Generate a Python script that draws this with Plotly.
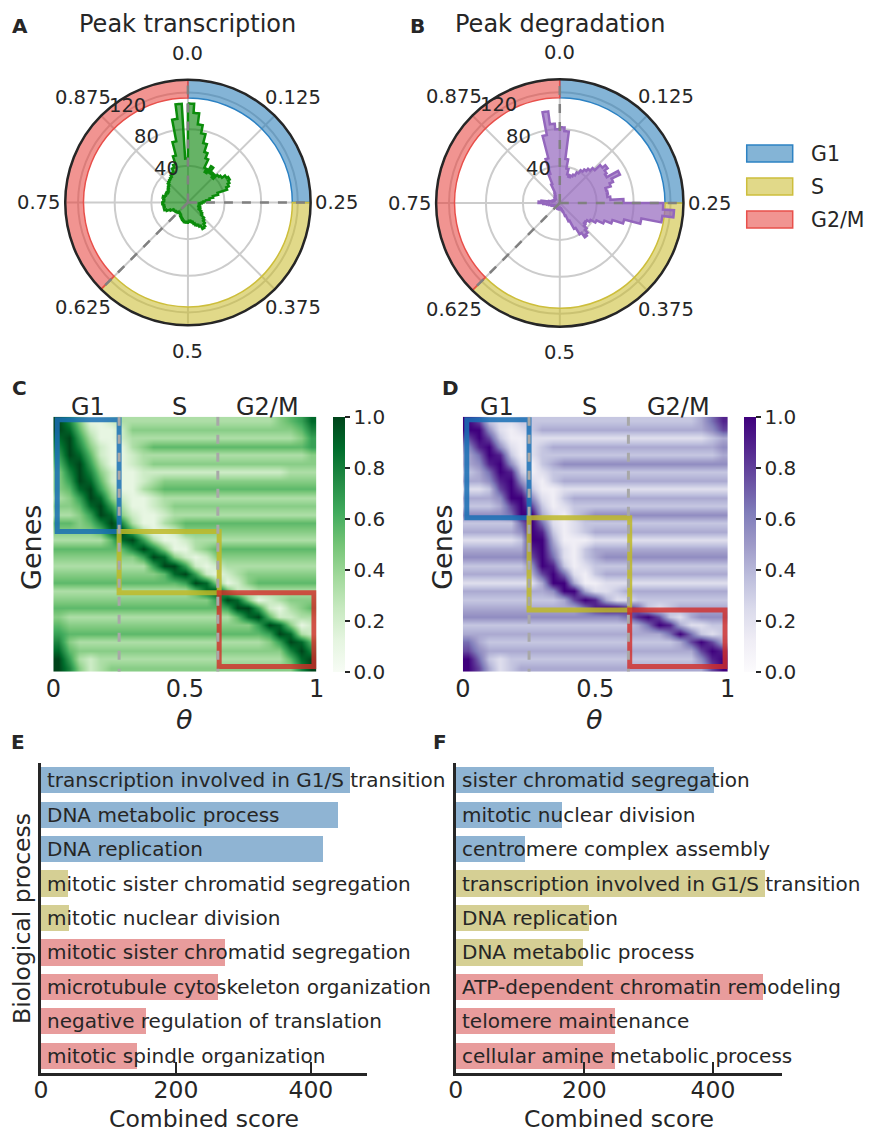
import numpy as np
import plotly.graph_objects as go

W, H = 871, 1134
FONT = "DejaVu Sans"
INK = "#262626"

# ----------------------------- data -----------------------------
PHASES = ["G1", "S", "G2/M"]
PHASE_BOUNDS = [0.0, 0.25, 0.625, 1.0]

# histogram of peak phase (100 bins over [0,1))
TRANSCRIPTION_COUNTS = [
    108, 98, 86, 77, 67, 58, 52, 42, 38, 47, 40, 42, 38, 44, 46, 50, 52, 50, 48, 45,
    34, 28, 24, 20, 17, 15, 13, 12, 13, 12, 14, 13, 15, 14, 17, 19, 20, 24, 26, 29,
    32, 33, 29, 27, 26, 24, 22, 21, 20, 21, 22, 21, 22, 21, 20, 19, 18, 17, 16, 15,
    15, 14, 15, 16, 16, 17, 17, 18, 21, 25, 27, 27, 26, 27, 28, 27, 26, 27, 28, 26,
    25, 26, 24, 25, 26, 27, 28, 30, 31, 32, 33, 35, 37, 41, 44, 53, 68, 92, 108, 48,
]
DEGRADATION_COUNTS = [
    82, 78, 48, 38, 32, 30, 32, 34, 38, 42, 45, 48, 52, 60, 64, 60, 58, 72, 62, 58,
    52, 53, 52, 55, 69, 112, 124, 112, 90, 72, 60, 52, 44, 38, 35, 34, 36, 40, 44, 46,
    40, 32, 22, 15, 10, 8, 7, 6, 6, 7, 6, 5, 6, 5, 6, 7, 6, 5, 5, 6,
    5, 6, 5, 6, 6, 5, 6, 6, 7, 8, 9, 10, 12, 14, 18, 23, 20, 12, 9, 8,
    7, 7, 6, 7, 6, 7, 6, 7, 8, 8, 9, 10, 12, 22, 33, 50, 75, 100, 86, 80,
]
RADIAL_TICKS = [40, 80, 120]
RADIAL_MAX = 134
RING_BASE = 114
ANGULAR_TICKS = [0.0, 0.125, 0.25, 0.375, 0.5, 0.625, 0.75, 0.875]
ANGULAR_LABELS = ["0.0", "0.125", "0.25", "0.375", "0.5", "0.625", "0.75", "0.875"]

# normalised expression per gene (rows, top->bottom) over theta (columns), digits 0..9 -> 0..1
TRANSCRIPTION_HEATMAP = [
    "9741123333333333333334568",
    "9852112444444444444444457",
    "8963112333333333333333346",
    "7974211345555555555555556",
    "6985211233333333333333334",
    "5896311234444444444444444",
    "4797421122222222222222333",
    "4698521123444444444444444",
    "4589631134555555555555555",
    "3469842112333333333333333",
    "4458963112344444444444444",
    "3346984211233333333333333",
    "5545797311345555555555555",
    "4444589631124444444444444",
    "3333358963112333333333333",
    "5555555797411345555555555",
    "4444444469842124444444444",
    "3333333336996212333333333",
    "4444444444589621234444444",
    "5555555555556984124555555",
    "3333333333333589522333333",
    "4444444444444446984123444",
    "5555555555555555699621345",
    "4333333333333333358952233",
    "5444444444444444444698412",
    "6555555555555555555569832",
    "7433333333333333333346985",
    "8544444444444444444444797",
    "9632333333333333333333589",
    "9742344444444444444444479",
]
DEGRADATION_HEATMAP = [
    "9732233333333333333333468",
    "9952123444444444444444457",
    "7973112222222222222222234",
    "5895212344444444444444445",
    "4698312333333333333333334",
    "4589521345555555555555555",
    "3469831233333333333333333",
    "4458952134444444444444444",
    "2237973112222222222222222",
    "4445995213444444444444444",
    "3334797312333333333333333",
    "5555699421345555555555555",
    "3333369621233333333333333",
    "4444459831234444444444444",
    "2222239941112222222222222",
    "4444448952134444444444444",
    "5555557962134555555555555",
    "3333335983123333333333333",
    "4444444796213444444444444",
    "2222222499411222222222222",
    "4444444459942234444444444",
    "3333333334798422333333333",
    "4444444444468998632344444",
    "5555555555555556897324555",
    "3333333333333333469842233",
    "4444444444444444444696323",
    "6433333333333333333347974",
    "7544444444444444444444798",
    "9632333333333333333333589",
    "9742344444444444444444479",
]
# gene-row spans (fraction of genes, top to bottom) assigned to each phase
TRANSCRIPTION_PHASE_ROWS = [(0.012, 0.45), (0.45, 0.69), (0.69, 0.98)]
DEGRADATION_PHASE_ROWS = [(0.012, 0.396), (0.396, 0.758), (0.758, 0.98)]
PHASE_BOX_X = [(0.015, 0.25), (0.25, 0.63), (0.63, 0.99)]
HEATMAP_TICKS = [0, 0.5, 1]
HEATMAP_TICK_LABELS = ["0", "0.5", "1"]
CBAR_TICKS = [0, 0.2, 0.4, 0.6, 0.8, 1.0]
CBAR_LABELS = ["0.0", "0.2", "0.4", "0.6", "0.8", "1.0"]

# enrichment
E_TERMS = [
    "transcription involved in G1/S transition",
    "DNA metabolic process",
    "DNA replication",
    "mitotic sister chromatid segregation",
    "mitotic nuclear division",
    "mitotic sister chromatid segregation",
    "microtubule cytoskeleton organization",
    "negative regulation of translation",
    "mitotic spindle organization",
]
E_SCORES = [458, 440, 418, 40, 42, 272, 263, 155, 143]
E_PHASE = ["G1", "G1", "G1", "S", "S", "G2/M", "G2/M", "G2/M", "G2/M"]
F_TERMS = [
    "sister chromatid segregation",
    "mitotic nuclear division",
    "centromere complex assembly",
    "transcription involved in G1/S transition",
    "DNA replication",
    "DNA metabolic process",
    "ATP-dependent chromatin remodeling",
    "telomere maintenance",
    "cellular amine metabolic process",
]
F_SCORES = [402, 165, 107, 481, 207, 198, 478, 247, 247]
F_PHASE = ["G1", "G1", "G1", "S", "S", "S", "G2/M", "G2/M", "G2/M"]
SCORE_TICKS = [0, 200, 400]

# ----------------------------- styles -----------------------------
RING_FILL = {"G1": "rgba(31,119,180,0.55)", "S": "rgba(200,185,40,0.55)", "G2/M": "rgba(230,60,55,0.55)"}
RING_LINE = {"G1": "rgb(45,130,195)", "S": "rgb(205,190,60)", "G2/M": "rgb(232,80,75)"}
BOX_LINE = {"G1": "rgba(25,110,180,0.85)", "S": "rgba(190,185,40,0.85)", "G2/M": "rgba(210,45,40,0.8)"}
BAR_COLOR = {"G1": "rgb(143,180,211)", "S": "rgb(213,207,148)", "G2/M": "rgb(232,156,156)"}
GREENS = [[0.0, "#f7fcf5"], [0.125, "#e5f5e0"], [0.25, "#c7e9c0"], [0.375, "#a1d99b"], [0.5, "#74c476"],
          [0.625, "#41ab5d"], [0.75, "#238b45"], [0.875, "#006d2c"], [1.0, "#00441b"]]
PURPLES = [[0.0, "#fcfbfd"], [0.125, "#efedf5"], [0.25, "#dadaeb"], [0.375, "#bcbddc"], [0.5, "#9e9ac8"],
           [0.625, "#807dba"], [0.75, "#6a51a3"], [0.875, "#54278f"], [1.0, "#3f007d"]]
RADIAL_LABEL_ANGLE = 122  # degrees, counter-clockwise from east

# the captured page is squeezed horizontally (x_shown ~ 8 + 0.982 * x_css); layout targets are
# given in shown pixels and converted back to css pixels here.
SQ_OFF, SQ_K = 8.0, 0.982


def sx(x):
    return (x - SQ_OFF) / SQ_K


def px(x):
    return sx(x) / W


def py(y):
    return 1 - y / H


fig = go.Figure()
annotations = []
shapes = []

POLARS = [("polar", 188, 202.5, 125), ("polar2", 560, 203, 126)]


# ----------------------------- polar panels -----------------------------
def add_polar(subplot, counts, fill, line):
    n = len(counts)
    w = 360.0 / n
    th, rr = [], []
    for i, c in enumerate(counts):
        for a in np.linspace(i * w, (i + 1) * w, 5):
            th.append(a)
            rr.append(c)
    th.append(th[0])
    rr.append(rr[0])
    fig.add_trace(go.Scatterpolar(r=rr, theta=th, mode="lines", fill="toself", fillcolor=fill,
                                  line=dict(color=line, width=2.5), subplot=subplot,
                                  showlegend=False, hoverinfo="skip"))
    centers = [(PHASE_BOUNDS[k] + PHASE_BOUNDS[k + 1]) / 2 * 360 for k in range(3)]
    widths = [(PHASE_BOUNDS[k + 1] - PHASE_BOUNDS[k]) * 360 for k in range(3)]
    fig.add_trace(go.Barpolar(r=[RADIAL_MAX - RING_BASE] * 3, base=[RING_BASE] * 3, theta=centers, width=widths,
                              marker=dict(color=[RING_FILL[p] for p in PHASES],
                                          line=dict(color=[RING_LINE[p] for p in PHASES], width=1.5)),
                              subplot=subplot, showlegend=False, hoverinfo="skip"))
    for b in PHASE_BOUNDS[:3]:
        fig.add_trace(go.Scatterpolar(r=[0, RADIAL_MAX], theta=[b * 360, b * 360], mode="lines",
                                      line=dict(color="#808080", width=2.5, dash="dash"),
                                      subplot=subplot, showlegend=False, hoverinfo="skip"))


add_polar("polar", TRANSCRIPTION_COUNTS, "rgba(0,128,0,0.6)", "rgb(10,140,10)")
add_polar("polar2", DEGRADATION_COUNTS, "rgba(148,103,189,0.7)", "rgb(148,103,189)")


def polar_layout(cx, cy, rad):
    c = sx(cx)
    return dict(
        domain=dict(x=[(c - rad) / W, (c + rad) / W], y=[py(cy + rad), py(cy - rad)]),
        bgcolor="white",
        radialaxis=dict(range=[0, RADIAL_MAX], tickmode="array", tickvals=RADIAL_TICKS, showline=False,
                        showticklabels=False, ticks="", gridcolor="#cccccc", gridwidth=1.5),
        angularaxis=dict(rotation=90, direction="clockwise", tickmode="array",
                         tickvals=[t * 360 for t in ANGULAR_TICKS], ticktext=ANGULAR_LABELS,
                         showticklabels=False,
                         showline=True, linecolor=INK, linewidth=2.5, gridcolor="#cccccc", gridwidth=1.5,
                         ticks=""),
    )


# tick labels placed matplotlib-style (angular: outside the rim, radial: on the tick circles)
for _, cx, cy, rad in POLARS:
    for t, lab in zip(ANGULAR_TICKS, ANGULAR_LABELS):
        a = 2 * np.pi * t
        lx = cx + (rad + 24) * np.sin(a)
        ly = cy - (rad + 24) * np.cos(a)
        annotations.append(dict(text=lab, x=px(lx), y=py(ly), xref="paper", yref="paper",
                                xanchor="center", yanchor="middle", showarrow=False,
                                font=dict(size=19.5, color=INK, family=FONT)))
    ra = np.deg2rad(RADIAL_LABEL_ANGLE)
    for rt in RADIAL_TICKS:
        rp = rt / RADIAL_MAX * rad + 3
        annotations.append(dict(text=str(rt), x=px(cx + rp * np.cos(ra)), y=py(cy - rp * np.sin(ra)),
                                xref="paper", yref="paper", xanchor="center", yanchor="middle",
                                showarrow=False, font=dict(size=19.5, color=INK, family=FONT)))


# ----------------------------- heatmaps -----------------------------
def add_heatmap(rows, cscale, xa, ya, cbar_x):
    z = [[int(ch) / 9 for ch in r] for r in rows]
    ncol = len(rows[0])
    nrow = len(rows)
    xs = [(j + 0.5) / ncol for j in range(ncol)]
    ys = [(i + 0.5) / nrow for i in range(nrow)]
    fig.add_trace(go.Heatmap(z=z, x=xs, y=ys, zmin=0, zmax=1, colorscale=cscale, zsmooth="best",
                             xaxis=xa, yaxis=ya, hoverinfo="skip",
                             colorbar=dict(x=cbar_x, xanchor="left", xpad=0, y=py(544.2), yanchor="middle",
                                           ypad=0, len=255 / H, lenmode="fraction", thickness=12,
                                           thicknessmode="pixels", outlinewidth=0, tickmode="array",
                                           tickvals=CBAR_TICKS, ticktext=CBAR_LABELS, ticks="outside",
                                           ticklen=5, tickwidth=1.5, tickcolor=INK,
                                           tickfont=dict(size=20, color=INK, family=FONT))))


add_heatmap(TRANSCRIPTION_HEATMAP, GREENS, "x", "y", px(333))
add_heatmap(DEGRADATION_HEATMAP, PURPLES, "x2", "y2", px(744))

for xa, ya, spans in [("x", "y", TRANSCRIPTION_PHASE_ROWS), ("x2", "y2", DEGRADATION_PHASE_ROWS)]:
    for p, (y0, y1), (x0, x1) in zip(PHASES, spans, PHASE_BOX_X):
        shapes.append(dict(type="rect", xref=xa, yref=ya, x0=x0, x1=x1, y0=y0, y1=y1,
                           line=dict(color=BOX_LINE[p], width=5), fillcolor="rgba(0,0,0,0)", layer="above"))
    for b in PHASE_BOUNDS[1:3]:
        shapes.append(dict(type="line", xref=xa, yref=ya, x0=b, x1=b, y0=0, y1=1,
                           line=dict(color="#a8a8a8", width=3, dash="dash"), layer="above"))

# ----------------------------- bars -----------------------------
for terms, scores, phases, xa, ya in [(E_TERMS, E_SCORES, E_PHASE, "x3", "y3"),
                                      (F_TERMS, F_SCORES, F_PHASE, "x4", "y4")]:
    idx = list(range(len(terms)))
    fig.add_trace(go.Bar(x=scores, y=idx, orientation="h", width=0.76,
                         marker=dict(color=[BAR_COLOR[p] for p in phases], line=dict(width=0)),
                         xaxis=xa, yaxis=ya, showlegend=False, hoverinfo="skip"))
    for i, t in zip(idx, terms):
        annotations.append(dict(text=t, x=0, y=i, xref=xa, yref=ya, xanchor="left", yanchor="middle",
                                xshift=4, showarrow=False, font=dict(size=20, color=INK, family=FONT)))

# ----------------------------- legend (custom) -----------------------------
for k, p in enumerate(PHASES):
    y0 = 145 + 33 * k
    shapes.append(dict(type="rect", xref="paper", yref="paper", x0=px(747), x1=px(793),
                       y0=py(y0 + 17), y1=py(y0), fillcolor=RING_FILL[p],
                       line=dict(color=RING_LINE[p], width=1.5)))
    annotations.append(dict(text=p, x=px(809), y=py(y0 + 8.5), xref="paper", yref="paper",
                            xanchor="left", yanchor="middle", showarrow=False,
                            font=dict(size=20.5, color=INK, family=FONT)))


# ----------------------------- text -----------------------------
def ann(text, x, y, size, angle=0, xanchor="center", yanchor="middle"):
    annotations.append(dict(text=text, x=px(x), y=py(y), xref="paper", yref="paper", xanchor=xanchor,
                            yanchor=yanchor, showarrow=False, textangle=angle,
                            font=dict(size=size, color=INK, family=FONT)))


ann("<b>A</b>", 20, 26, 20)
ann("<b>B</b>", 418, 26, 20)
ann("<b>C</b>", 20, 388, 20)
ann("<b>D</b>", 451, 388, 20)
ann("<b>E</b>", 18, 742, 20)
ann("<b>F</b>", 440, 742, 20)
ann("Peak transcription", 188, 24, 24)
ann("Peak degradation", 560, 24, 24)
ann("Genes", 31, 547, 27, angle=-90)
ann("Genes", 442, 547, 27, angle=-90)
ann("<i>θ</i>", 185, 719, 27)
ann("<i>θ</i>", 595, 719, 27)
ann("Biological process", 22, 918, 23.5, angle=-90)
ann("Combined score", 204, 1135, 23.5, yanchor="bottom")
ann("Combined score", 619, 1135, 23.5, yanchor="bottom")

for xa in ["x", "x2"]:
    for p, xc in zip(PHASES, [0.13, 0.48, 0.815]):
        annotations.append(dict(text=p, x=xc, y=py(407), xref=xa, yref="paper", xanchor="center",
                                yanchor="middle", showarrow=False,
                                font=dict(size=24, color=INK, family=FONT)))

# ----------------------------- layout -----------------------------
hm_x = dict(range=[0, 1], tickmode="array", tickvals=HEATMAP_TICKS, ticktext=HEATMAP_TICK_LABELS,
            showgrid=False, zeroline=False, ticks="", showline=False,
            tickfont=dict(size=24, color=INK, family=FONT))
hm_y = dict(range=[1, 0], showticklabels=False, showgrid=False, zeroline=False, ticks="", showline=False)
bar_x = dict(tickmode="array", tickvals=SCORE_TICKS, ticks="inside", ticklen=11, tickwidth=2, tickcolor=INK,
             showline=True, linecolor=INK, linewidth=2.5, showgrid=False, zeroline=False,
             tickfont=dict(size=23.5, color=INK, family=FONT), ticklabelstandoff=-6)
bar_y = dict(range=[len(E_TERMS) - 0.5, -0.5], showticklabels=False, showgrid=False, zeroline=False,
             ticks="", showline=True, linecolor=INK, linewidth=2.5)

fig.update_layout(
    width=W, height=H, margin=dict(l=0, r=0, t=0, b=0),
    paper_bgcolor="white", plot_bgcolor="white",
    font=dict(family=FONT, color=INK),
    showlegend=False,
    polar=polar_layout(*POLARS[0][1:]),
    polar2=polar_layout(*POLARS[1][1:]),
    xaxis=dict(domain=[px(53.3), px(316.7)], anchor="y", **hm_x),
    yaxis=dict(domain=[py(671.7), py(416.7)], anchor="x", **hm_y),
    xaxis2=dict(domain=[px(463), px(728)], anchor="y2", **hm_x),
    yaxis2=dict(domain=[py(671.7), py(416.7)], anchor="x2", **hm_y),
    xaxis3=dict(domain=[px(41), px(367)], anchor="y3", range=[0, 483], **bar_x),
    yaxis3=dict(domain=[py(1073), py(763)], anchor="x3", **bar_y),
    xaxis4=dict(domain=[px(456), px(782)], anchor="y4", range=[0, 507], **bar_x),
    yaxis4=dict(domain=[py(1073), py(763)], anchor="x4", **bar_y),
    shapes=shapes,
    annotations=annotations,
    bargap=0,
)

fig.write_html("out.html")
